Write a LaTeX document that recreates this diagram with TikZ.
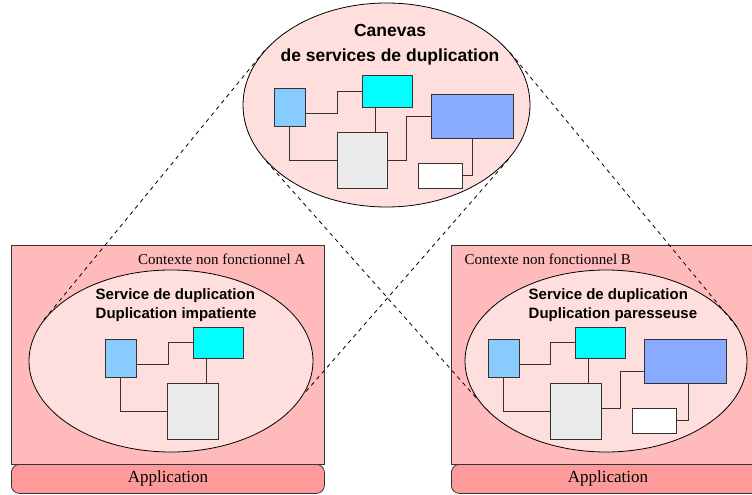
\documentclass[tikz,border=0pt]{standalone}
\usepackage{fontspec}
\setmainfont{Liberation Serif}
\setsansfont{Liberation Sans}
\usetikzlibrary{shapes.geometric}
\definecolor{ctxpink}{HTML}{FFBBBB}
\definecolor{bubblepink}{HTML}{FFDEDE}
\definecolor{apppink}{HTML}{FF9A9A}
\definecolor{lblue}{HTML}{88CCFF}
\definecolor{aqua}{HTML}{00FFFF}
\definecolor{dblue}{HTML}{88AAFF}
\definecolor{lgrey}{HTML}{EBEBEB}
\definecolor{boxline}{HTML}{333333}
\tikzstyle{comp}=[draw=boxline, inner sep=0pt, outer sep=0pt, anchor=north west]
\tikzstyle{bubble}=[ellipse, draw, fill=bubblepink, inner sep=0pt]
\tikzstyle{ctx}=[draw=boxline, fill=ctxpink, inner sep=0pt, anchor=north west]
\tikzstyle{app}=[draw=boxline, fill=apppink, rounded corners=8pt, inner sep=0pt, anchor=north west, font=\fontsize{17}{20}\selectfont]
\tikzstyle{link}=[boxline]
\tikzstyle{zoom}=[dash pattern=on 4pt off 4pt]
\tikzstyle{title}=[font=\sffamily\bfseries\fontsize{15}{19}\selectfont, align=left, anchor=west]

\begin{document}
\begin{tikzpicture}[x=1pt, y=-1pt, line width=0.8pt]
    \useasboundingbox (0,0) rectangle (752,495);
    \clip (0,0) rectangle (752,495);
% Contexts
    \node[ctx, minimum width=313, minimum height=219] (ca) at (11,245) {};
    \node[ctx, minimum width=313, minimum height=219] (cb) at (451,245) {};
    \node[app, minimum width=313, minimum height=29] (appa) at (11,464) {Application};
    \node[app, minimum width=313, minimum height=29] (appb) at (451,464) {Application};
    \node[font=\fontsize{15}{18}\selectfont, anchor=east] (la) at (309,259) {Contexte non fonctionnel A};
    \node[font=\fontsize{15}{18}\selectfont, anchor=west] (lb) at (461,259) {Contexte non fonctionnel B};
% Bubbles
    \node[bubble, minimum width=287, minimum height=204] (top) at (386.5,105) {};
    \node[bubble, minimum width=284, minimum height=182] (ea) at (171,361) {};
    \node[bubble, minimum width=282, minimum height=182] (eb) at (606,361) {};
    \node[font=\sffamily\bfseries\fontsize{17.5}{25}\selectfont, align=center] (ttl) at (390,45) {Canevas\\de services de duplication};
    \node[title] (tta) at (92,305.5) {Service de duplication\\Duplication impatiente};
    \node[title] (ttb) at (525,305.5) {Service de duplication\\Duplication paresseuse};
% Framework components
    \node[comp, fill=lblue, minimum width=31, minimum height=38] (tlb) at (274,88) {};
    \node[comp, fill=aqua, minimum width=50, minimum height=32] (tcy) at (362,75) {};
    \node[comp, fill=dblue, minimum width=82, minimum height=44] (tbl) at (431,94) {};
    \node[comp, fill=lgrey, minimum width=50, minimum height=56] (tgr) at (337,132) {};
    \node[comp, fill=white, minimum width=44, minimum height=25] (twh) at (418,163) {};
    \draw[link] ([yshift=-6]tlb.east) -| ([xshift=-25]tcy.west) -- (tcy.west);
    \draw[link] ([xshift=-12]tcy.south) -- ([xshift=-12]tcy.south |- tgr.north);
    \draw[link] (tlb.south) |- (tgr.west);
    \draw[link] (tgr.east) -| ([xshift=-25]tbl.west) -- (tbl.west);
    \draw[link] (tbl.south) |- (twh.east);
% Eager service
    \node[comp, fill=lblue, minimum width=31, minimum height=38] (alb) at (105,339) {};
    \node[comp, fill=aqua, minimum width=50, minimum height=31] (acy) at (193,327) {};
    \node[comp, fill=lgrey, minimum width=51, minimum height=56] (agr) at (167,383) {};
    \draw[link] ([yshift=-6]alb.east) -| ([xshift=-25]acy.west) -- (acy.west);
    \draw[link] ([xshift=-12]acy.south) -- ([xshift=-12]acy.south |- agr.north);
    \draw[link] (alb.south) |- (agr.west);
% Lazy service
    \node[comp, fill=lblue, minimum width=31, minimum height=38] (blb) at (488,339) {};
    \node[comp, fill=aqua, minimum width=50, minimum height=31] (bcy) at (575,327) {};
    \node[comp, fill=dblue, minimum width=82, minimum height=44] (bbl) at (644,339) {};
    \node[comp, fill=lgrey, minimum width=51, minimum height=56] (bgr) at (550,383) {};
    \node[comp, fill=white, minimum width=44, minimum height=25] (bwh) at (632,408) {};
    \draw[link] ([yshift=-6]blb.east) -| ([xshift=-25]bcy.west) -- (bcy.west);
    \draw[link] ([xshift=-12]bcy.south) -- ([xshift=-12]bcy.south |- bgr.north);
    \draw[link] (blb.south) |- (bgr.west);
    \draw[link] ([yshift=3]bgr.east) -| ([xshift=-24,yshift=-10]bbl.west) -- ([yshift=-10]bbl.west);
    \draw[link] ([xshift=3]bbl.south) |- (bwh.east);
% Zoom lines
    \draw[zoom] (top.156) -- (ea.162);
    \draw[zoom] (top.205) -- (eb.197);
    \draw[zoom] (top.336) -- (ea.346);
    \draw[zoom] (top.23) -- (eb.14);
\end{tikzpicture}
\end{document}
